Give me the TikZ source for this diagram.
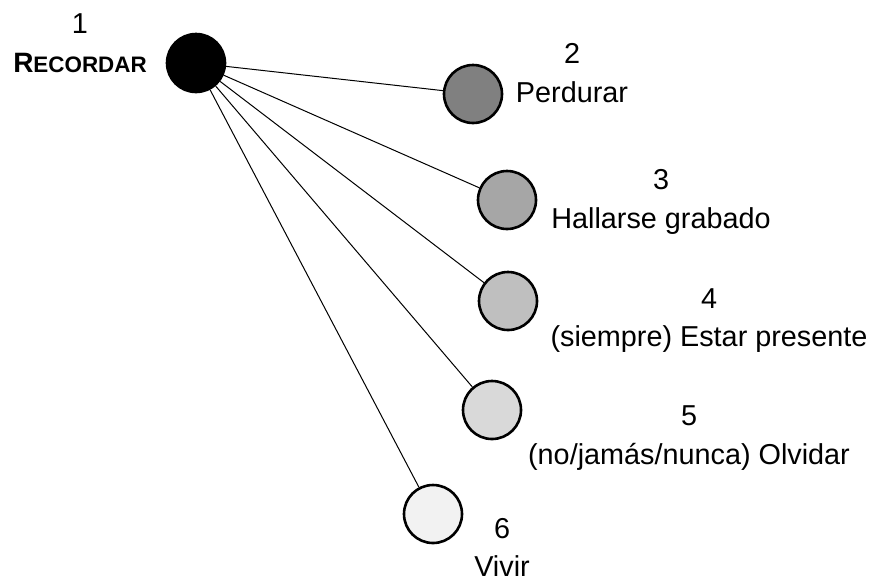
\documentclass[tikz,border=0pt]{standalone}
\usepackage{fontspec}
\setmainfont{Liberation Sans}
\begin{document}
\begin{tikzpicture}[x=0.5pt,y=-0.5pt,
	dot/.style={circle,draw=black,line width=1.3pt,minimum size=29pt,inner sep=0pt},
	lbl/.style={anchor=base,inner sep=0pt,font=\fontsize{14.4}{17}\selectfont}]
	\useasboundingbox (0,0) rectangle (876,579);
	
	% Circles
	\node[dot,fill=black] (REC) at (196,63) {};
	\node[dot,fill=black!50] (PER) at (473,94) {};
	\node[dot,fill=black!35] (HAL) at (507,200) {};
	\node[dot,fill=black!25] (EST) at (508,301) {};
	\node[dot,fill=black!15] (OLV) at (492,410) {};
	\node[dot,fill=black!5] (VIV) at (433,514) {};
	
	% Lines from the main circle
	\foreach \n in {PER,HAL,EST,OLV,VIV}
		\draw[line width=0.5pt] (REC) -- (\n);
	
	% Numbers
	\node[lbl] (N1) at (80,33) {1};
	\node[lbl] (N2) at (572,63) {2};
	\node[lbl] (N3) at (661,189) {3};
	\node[lbl] (N4) at (709,308) {4};
	\node[lbl] (N5) at (689,425) {5};
	\node[lbl] (N6) at (502,538) {6};
	
	% Words
	\node[lbl] (W1) at (80,72) {\bfseries\fontsize{14}{17}\selectfont R\fontsize{11.2}{17}\selectfont ECORDAR};
	\node[lbl] (W2) at (572,102) {Perdurar};
	\node[lbl] (W3) at (661,228) {Hallarse grabado};
	\node[lbl] (W4) at (709,346) {(siempre) Estar presente};
	\node[lbl] (W5) at (689,464) {(no/jamás/nunca) Olvidar};
	\node[lbl] (W6) at (502,576) {Vivir};
\end{tikzpicture}
\end{document}
